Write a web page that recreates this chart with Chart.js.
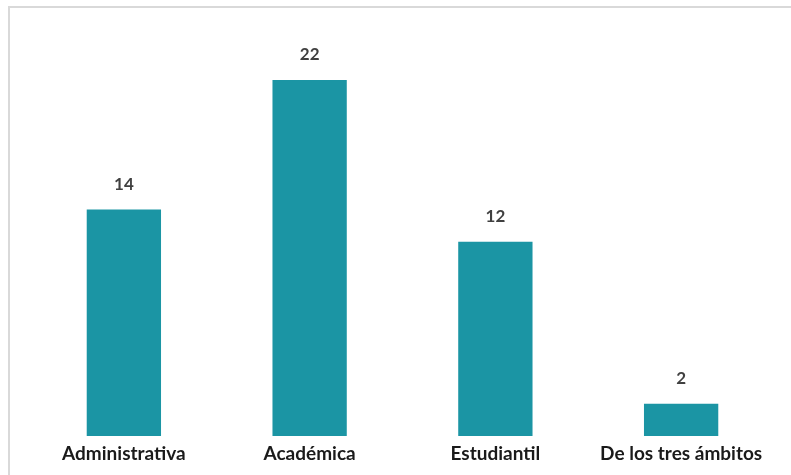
<!DOCTYPE html>
<html>
<head>
<meta charset="utf-8">
<script src="https://cdn.jsdelivr.net/npm/chart.js@4.4.0/dist/chart.umd.min.js"></script>
<style>
  html, body { margin: 0; padding: 0; background: #ffffff; }
  #wrap { position: relative; width: 791px; height: 475px; overflow: hidden; }
  #frame { position: absolute; left: 8px; top: 6px; width: 820px; height: 500px;
           border-top: 2px solid #d9d9d9; border-left: 2px solid #d9d9d9; box-sizing: border-box; }
  #c { position: absolute; left: 0; top: 0; }
</style>
</head>
<body>
<div id="wrap">
  <div id="frame"></div>
  <canvas id="c" width="791" height="475"></canvas>
</div>
<script>
const categories = ["Administrativa", "Académica", "Estudiantil", "De los tres ámbitos"];
const values = [14, 22, 12, 2];

const valueLabels = {
  id: 'valueLabels',
  afterDatasetsDraw(chart) {
    const ctx = chart.ctx;
    const meta = chart.getDatasetMeta(0);
    ctx.save();
    ctx.font = "bold 17px Lato, 'Liberation Sans', sans-serif";
    ctx.fillStyle = '#404040';
    ctx.textAlign = 'center';
    ctx.textBaseline = 'middle';
    meta.data.forEach((bar, i) => {
      ctx.fillText(String(values[i]), bar.x, bar.y - 25);
    });
    ctx.restore();
  }
};

new Chart(document.getElementById('c'), {
  type: 'bar',
  data: {
    labels: categories,
    datasets: [{
      data: values,
      backgroundColor: '#1b95a4',
      borderWidth: 0,
      barPercentage: 0.4,
      categoryPercentage: 1.0
    }]
  },
  options: {
    responsive: false,
    animation: false,
    devicePixelRatio: 1,
    layout: { padding: { left: 31, right: 17, top: 80, bottom: 4 } },
    plugins: { legend: { display: false }, tooltip: { enabled: false } },
    scales: {
      x: {
        grid: { display: false, drawTicks: false },
        border: { display: false },
        ticks: {
          color: '#1a1a1a',
          padding: 8,
          maxRotation: 0,
          autoSkip: false,
          font: { family: "Lato, 'Liberation Sans', sans-serif", size: 19, weight: 'bold', lineHeight: 1.0 }
        }
      },
      y: {
        display: false,
        min: 0,
        max: 22
      }
    }
  },
  plugins: [valueLabels]
});
</script>
</body>
</html>
